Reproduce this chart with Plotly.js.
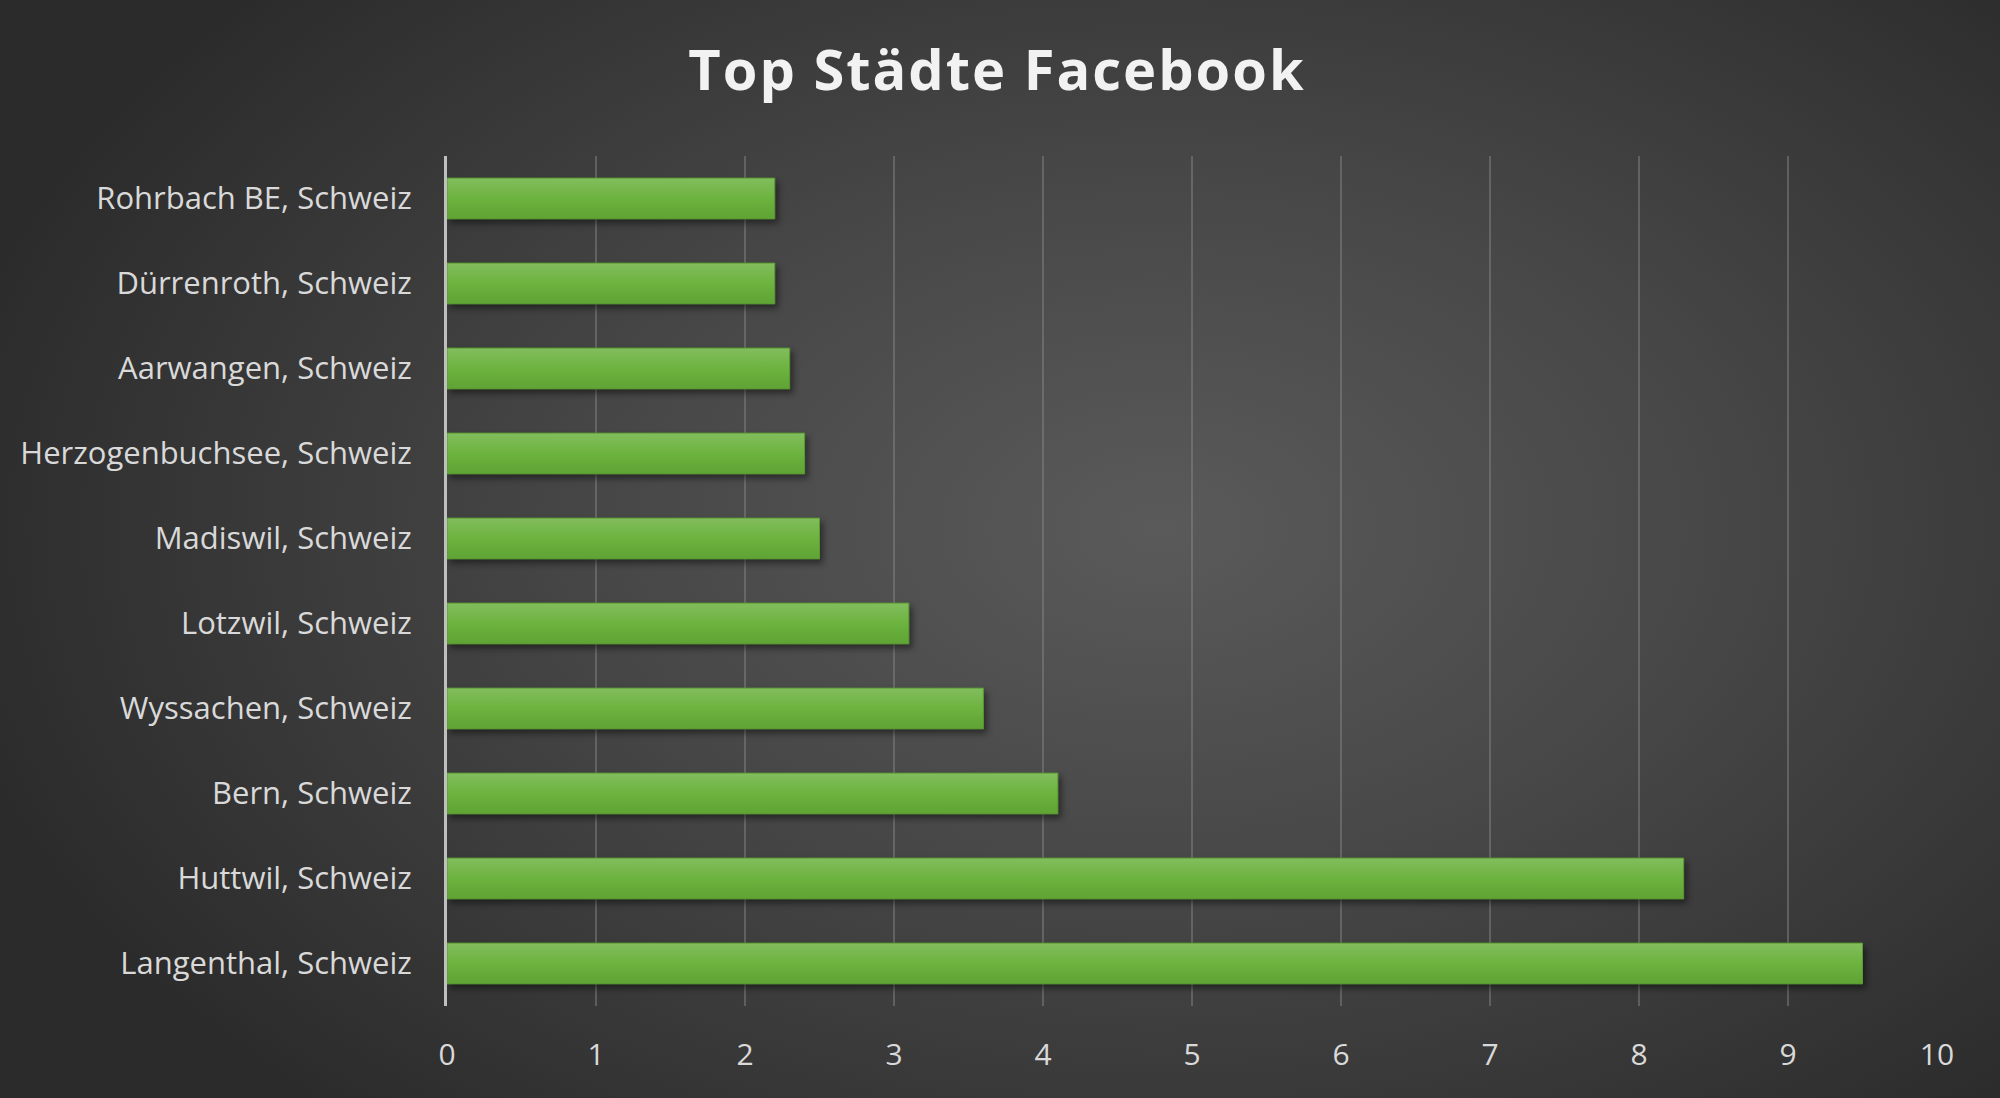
<!DOCTYPE html>
<html><head><meta charset="utf-8">
<script src="https://cdn.plot.ly/plotly-3.0.1.min.js"></script>
<style>
html,body{margin:0;padding:0;width:2000px;height:1098px;overflow:hidden;}
body{background:radial-gradient(ellipse 62% 72% at 58% 48%, #5a5a5a 0%, #474747 45%, #2b2b2b 100%);}
#chart{width:2000px;height:1098px;}
.gtitle{letter-spacing:2px;}
.barlayer .point path{filter:drop-shadow(3px 4px 3px rgba(0,0,0,0.45));}
</style></head>
<body><div id="chart"></div>
<script>
const cities = ["Rohrbach BE, Schweiz","Dürrenroth, Schweiz","Aarwangen, Schweiz","Herzogenbuchsee, Schweiz","Madiswil, Schweiz","Lotzwil, Schweiz","Wyssachen, Schweiz","Bern, Schweiz","Huttwil, Schweiz","Langenthal, Schweiz"];
const values = [2.2, 2.2, 2.3, 2.4, 2.5, 3.1, 3.6, 4.1, 8.3, 9.5];
const tickValues = [0,1,2,3,4,5,6,7,8,9,10];

const trace = {
  type:'bar', orientation:'h', x: values, y: cities,
  marker:{color:'#6cb23f', line:{color:'#5a9a31', width:1}},
  hoverinfo:'x+y'
};
const layout = {
  width:2000, height:1098,
  paper_bgcolor:'rgba(0,0,0,0)', plot_bgcolor:'rgba(0,0,0,0)',
  margin:{l:447, r:63, t:156, b:92},
  bargap:0.52,
  showlegend:false,
  title:{text:'Top Städte Facebook', x:0.4985, xanchor:'center', y:0.936, yanchor:'middle',
    font:{family:'Open Sans', size:56, color:'#f2f2f2', weight:700}},
  xaxis:{range:[0,10], tickvals:tickValues, showgrid:true, gridcolor:'rgba(140,140,140,0.45)', gridwidth:1.5,
    zeroline:false, showline:false, ticks:'', ticklabelstandoff:28,
    tickfont:{family:'Open Sans', size:30, color:'#d9d9d9'}, fixedrange:true},
  yaxis:{autorange:'reversed', showgrid:false, zeroline:false, showline:true, linecolor:'#bfbfbf', linewidth:3,
    ticks:'', ticklabelstandoff:26,
    tickfont:{family:'Open Sans', size:31, color:'#d9d9d9'}, fixedrange:true}
};
Plotly.newPlot('chart',[trace],layout,{displayModeBar:false, staticPlot:true}).then(function(gd){
  const svg = gd.querySelector('svg.main-svg');
  const ns = 'http://www.w3.org/2000/svg';
  let defs = svg.querySelector('defs');
  if(!defs){defs=document.createElementNS(ns,'defs');svg.insertBefore(defs,svg.firstChild);}
  const lg = document.createElementNS(ns,'linearGradient');
  lg.setAttribute('id','barGrad'); lg.setAttribute('x1','0'); lg.setAttribute('y1','0'); lg.setAttribute('x2','0'); lg.setAttribute('y2','1');
  [['0','#82bd5e'],['0.5','#6db33f'],['1','#5ea334']].forEach(function(s){
    const st=document.createElementNS(ns,'stop'); st.setAttribute('offset',s[0]); st.setAttribute('stop-color',s[1]); lg.appendChild(st);
  });
  defs.appendChild(lg);
  gd.querySelectorAll('.barlayer .point path').forEach(function(p){p.style.fill='url(#barGrad)';});
});
</script></body></html>
